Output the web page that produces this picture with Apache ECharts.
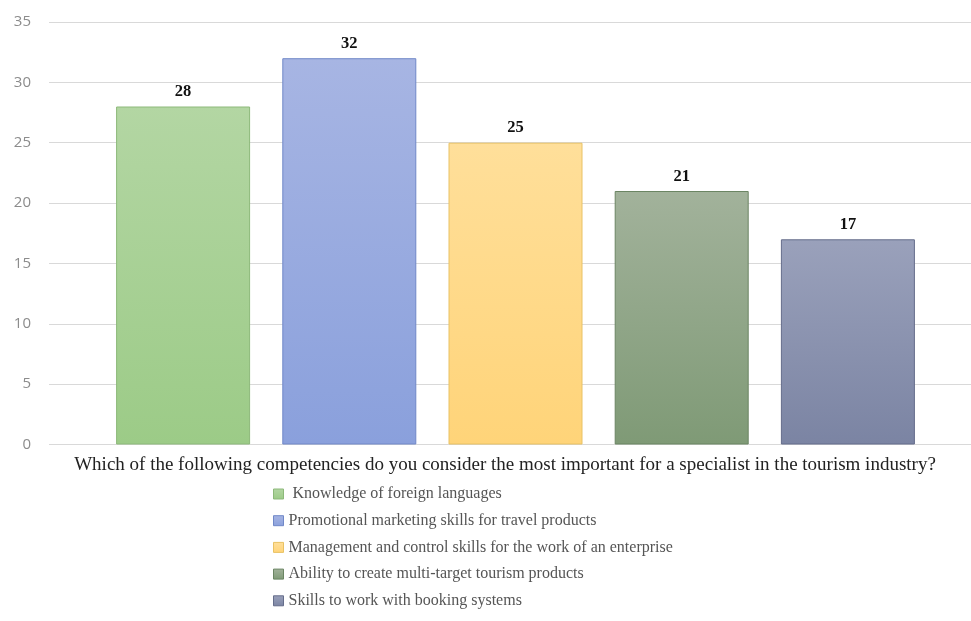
<!DOCTYPE html>
<html>
<head>
<meta charset="utf-8">
<script src="https://cdn.jsdelivr.net/npm/echarts@6/dist/echarts.min.js"></script>
<style>html,body{margin:0;padding:0;background:#fff}#c{width:971px;height:621px}</style>
</head>
<body>
<div id="c"></div>
<script>
const categories = [" Knowledge of foreign languages", "Promotional marketing skills for travel products", "Management and control skills for the work of an enterprise", "Ability to create multi-target tourism products", "Skills to work with booking systems"];
const values = [28, 32, 25, 21, 17];
const yTicks = [0, 5, 10, 15, 20, 25, 30, 35];
const axisTitle = "Which of the following competencies do you consider the most important for a specialist in the tourism industry?";
const topColors = ["#b3d6a3", "#a7b5e3", "#ffdf9a", "#a2b29b", "#9aa1bb"];
const bottomColors = ["#9ccb87", "#8aa0dc", "#ffd479", "#7f9a76", "#7b84a3"];
const borderColors = ["#8db97a", "#7088c8", "#e9c264", "#6b8563", "#656d8b"];

const chart = echarts.init(document.getElementById('c'));
const series = categories.map((name, i) => ({
  name: name,
  type: 'bar',
  stack: 'all',
  xAxisIndex: 1, yAxisIndex: 1,
  barWidth: 134,
  data: values.map((v, j) => j === i ? v : '-'),
  itemStyle: {
    color: new echarts.graphic.LinearGradient(0, 0, 0, 1, [{offset: 0, color: topColors[i]}, {offset: 1, color: bottomColors[i]}]),
    borderColor: borderColors[i], borderWidth: 1
  },
  label: {show: true, position: 'top', distance: 6, color: '#111', fontFamily: 'Liberation Serif', fontWeight: 'bold', fontSize: 16.5}
}));
chart.setOption({
  animation: false,
  grid: [
    {left: 49, right: 0, top: 22, bottom: 176.5},
    {left: 100, right: 40, top: 22, bottom: 176.5}
  ],
  xAxis: [
    {gridIndex: 0, type: 'value', show: false, min: 0, max: 1},
    {gridIndex: 1, type: 'category', data: categories, axisLine: {show: false}, axisTick: {show: false}, axisLabel: {show: false}}
  ],
  yAxis: [
    {gridIndex: 0, type: 'value', min: yTicks[0], max: yTicks[yTicks.length - 1], interval: 5,
     axisLine: {show: false}, axisTick: {show: false},
     axisLabel: {color: '#8c8c8c', fontSize: 15, fontFamily: 'Open Sans', margin: 18},
     splitLine: {lineStyle: {color: '#d9d9d9', width: 1}}},
    {gridIndex: 1, type: 'value', min: yTicks[0], max: yTicks[yTicks.length - 1], interval: 5, show: false}
  ],
  legend: {
    orient: 'vertical', left: 268, top: 481, itemWidth: 10, itemHeight: 10, itemGap: 10.7,
    icon: 'rect',
    textStyle: {fontFamily: 'Liberation Serif', fontSize: 16, color: '#555'},
    itemStyle: {borderWidth: 1}
  },
  graphic: [{
    type: 'text', x: 505, y: 456,
    style: {text: axisTitle, font: '19px "Liberation Serif"', fill: '#222', align: 'center'}
  }],
  series: series
});
</script>
</body>
</html>
